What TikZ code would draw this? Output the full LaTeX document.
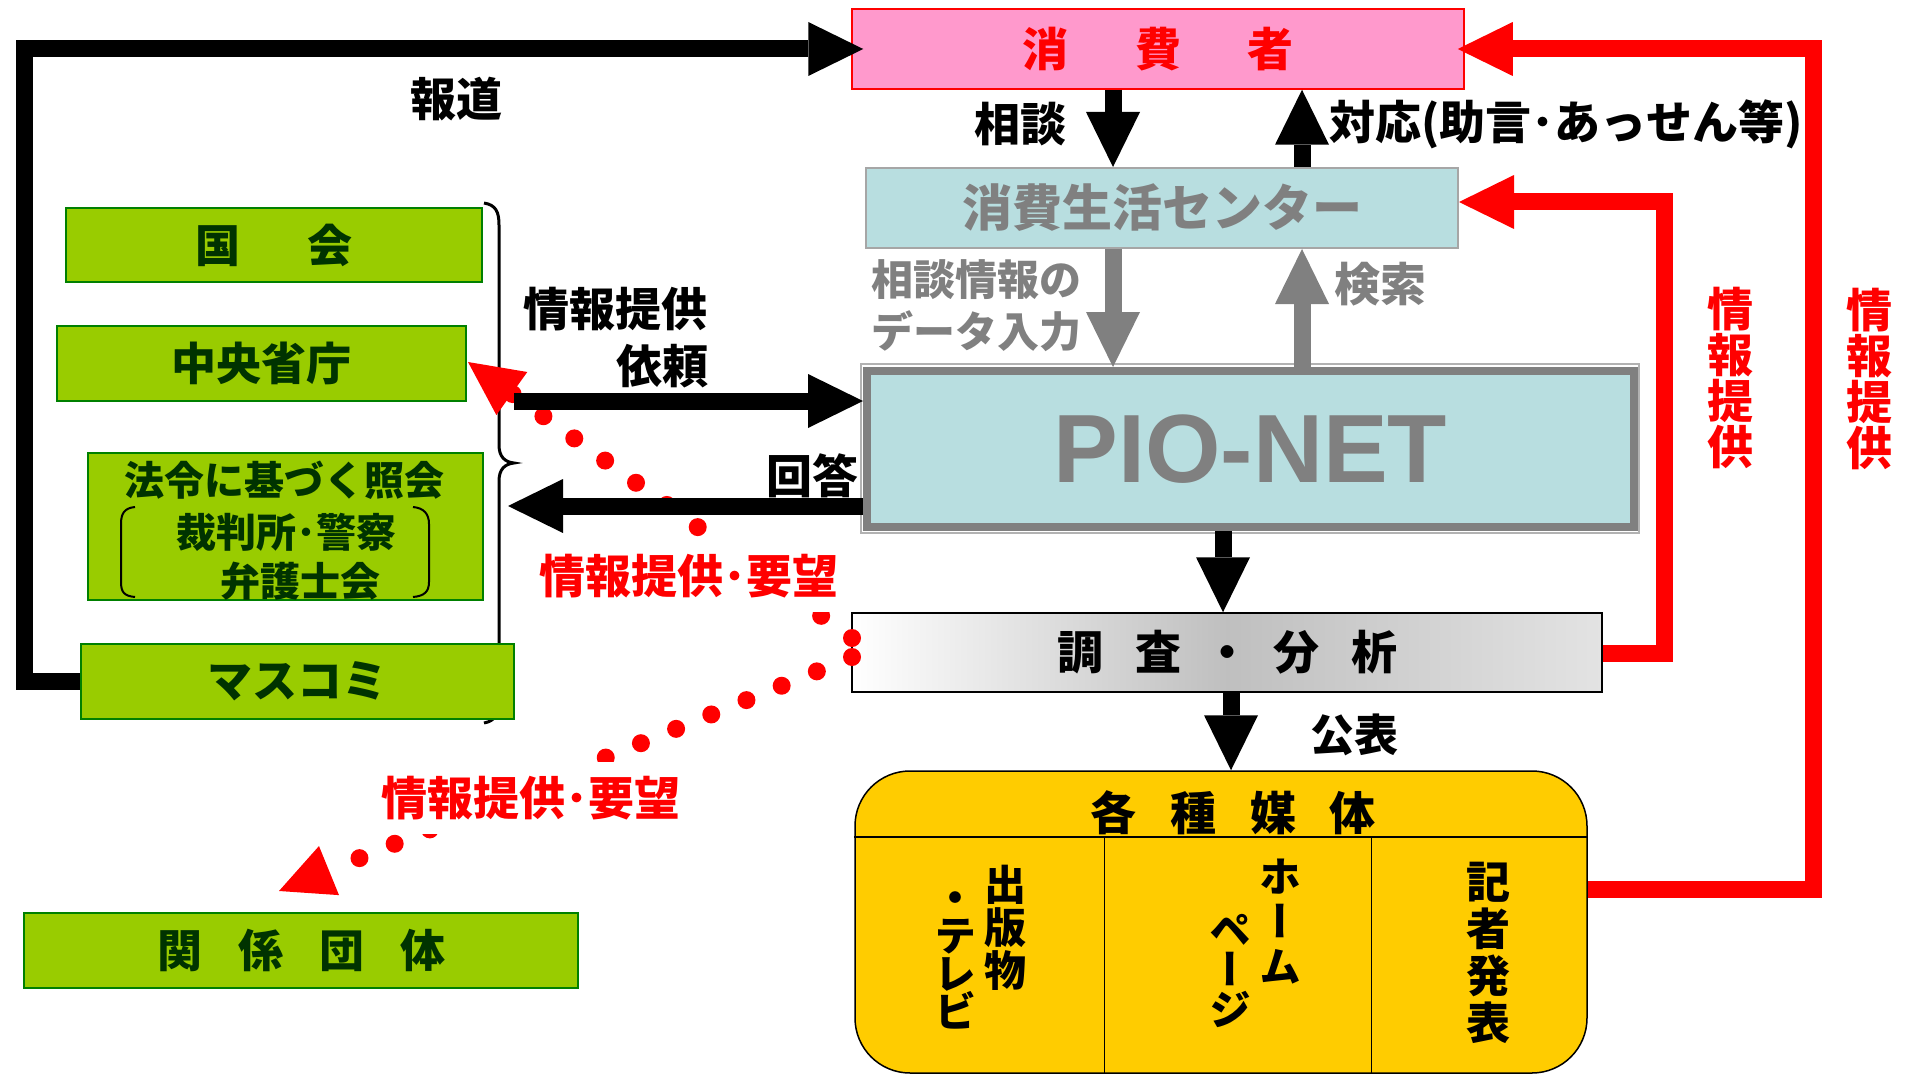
\documentclass[tikz,border=0pt]{standalone}
\usepackage{fontspec}
\setmainfont{Noto Sans CJK JP}
\newfontfamily\vjp{Noto Sans CJK JP}[RawFeature=+vert]
\newfontfamily\arialf{Liberation Sans}
\usetikzlibrary{arrows.meta,calc}
\definecolor{pinkf}{RGB}{255,153,204}
\definecolor{cyanf}{RGB}{184,222,224}
\definecolor{gfill}{RGB}{153,204,0}
\definecolor{gline}{RGB}{0,128,0}
\definecolor{gtext}{RGB}{0,51,0}
\definecolor{yfill}{RGB}{255,204,0}
\definecolor{greyt}{RGB}{128,128,128}
\definecolor{redc}{RGB}{255,0,0}
\newcommand\mystrut{\rule[-0.07em]{0pt}{0.9em}}
\tikzset{
  lab/.style={font=\bfseries\fontsize{46}{50}\selectfont, inner sep=0pt},
  glab/.style={lab, text=greyt},
  rlab/.style={lab, text=redc},
  gtxt/.style={inner sep=0pt, text=gtext, font=\bfseries\fontsize{40}{44}\selectfont},
  gbox/.style={draw=gline, fill=gfill, line width=2pt, text=gtext, inner sep=0pt,
    font=\bfseries\fontsize{45}{50}\selectfont},
  blk/.style={line width=17pt, line join=miter,
    -{Triangle[length=55pt,width=54pt,line width=0pt]}},
  gry/.style={blk, color=greyt},
  redarr/.style={blk, color=redc},
  dotarr/.style={color=redc, line width=18pt, line cap=round, dash pattern=on 0pt off 38pt,
    -{Triangle[length=54pt,width=53pt,line width=0pt]}},
  vt/.style={align=center, inner sep=0pt},
}
\begin{document}
\begin{tikzpicture}[x=1pt,y=-1pt]
\useasboundingbox (0,0) rectangle (1908,1075);

% brace
\draw[line width=3pt] (484,203) .. controls (496,205) and (499,212) .. (499,225) -- (499,445)
  .. controls (499,457) and (505,462) .. (514,463) .. controls (505,464) and (499,469) .. (499,481)
  -- (499,700) .. controls (499,714) and (495,721) .. (484,723);

% main boxes
\node[draw=redc, fill=pinkf, line width=1.5pt, minimum width=612pt, minimum height=80pt,
  inner sep=0pt, text=redc, font=\bfseries\fontsize{46}{50}\selectfont] (consumer) at (1158,49)
  {消\hspace{67pt}費\hspace{66pt}者};
\node[draw=gray!70, fill=cyanf, line width=2pt, minimum width=592pt, minimum height=80pt,
  inner sep=0pt, text=greyt, font=\bfseries\fontsize{50}{54}\selectfont] (center) at (1162,208)
  {消費生活センター};
\node[draw=greyt, fill=cyanf, line width=8pt, minimum width=767pt, minimum height=156pt,
  inner sep=0pt, text=greyt, font=\arialf\bfseries\fontsize{97}{100}\selectfont] (pionet)
  at (1250.5,449) {PIO-NET};
\draw[line width=1.5pt, draw=gray!60] ($(pionet.north west)+(-2,-3)$) rectangle ($(pionet.south east)+(1,2)$);
\node[draw=black, line width=1.5pt, left color=white, right color=gray!22, middle color=gray!50,
  minimum width=750pt, minimum height=79pt, inner sep=0pt,
  font=\bfseries\fontsize{46}{50}\selectfont] (analysis) at (1227,652.5)
  {調\hspace{33pt}査\hspace{23pt}・\hspace{23pt}分\hspace{31pt}析};
\node[draw=black, fill=yfill, line width=1.5pt, rounded corners=55pt, minimum width=732pt,
  minimum height=302pt, inner sep=0pt] (media) at (1221,922) {};
\draw[line width=2pt] ($(media.north west)+(0,67)$) -- ($(media.north east)+(0,67)$);
\draw[line width=1.5pt] ($(media.north west)+(250,67)$) -- ($(media.south west)+(250,0)$);
\draw[line width=1.5pt] ($(media.north west)+(517,67)$) -- ($(media.south west)+(517,0)$);
\node[lab] (mediaT) at (1233,813) {各\hspace{34pt}種\hspace{34pt}媒\hspace{34pt}体};
\node[vt, font=\vjp\bfseries\fontsize{42}{43}\selectfont] (c1a) at (1005,928) {\mystrut 出\\版\\物\mystrut};
\node[vt, font=\vjp\bfseries\fontsize{42}{38}\selectfont] (c1b) at (955,955) {\mystrut ・\\テ\\レ\\ビ\mystrut};
\node[vt, font=\vjp\bfseries\fontsize{42}{45}\selectfont] (c2a) at (1280,922) {\mystrut ホ\\ー\\ム\mystrut};
\node[vt, font=\vjp\bfseries\fontsize{42}{40}\selectfont] (c2b) at (1230,970) {\mystrut ペ\\ー\\ジ\mystrut};
\node[vt, font=\vjp\bfseries\fontsize{44}{47}\selectfont] (c3) at (1488,953) {\mystrut 記\\者\\発\\表\mystrut};

% green boxes
\node[gbox, minimum width=416pt, minimum height=74pt] (kokkai) at (274,245) {国\hspace{67pt}会};
\node[gbox, minimum width=409pt, minimum height=75pt] (chuo) at (261.5,363.5) {中央省庁};
\node[gbox, minimum width=395pt, minimum height=147pt] (legal) at (285.5,526.5) {};
\node[gtxt] (legal1) at (284,480) {法令に基づく照会};
\node[gtxt] (legal2) at (286,532) {裁判所･警察};
\node[gtxt] (legal3) at (300,581) {弁護士会};
\draw[line width=2pt] (135,507) .. controls (124,508) and (121,514) .. (121,524) -- (121,582)
  .. controls (121,592) and (124,596) .. (135,597);
\draw[line width=2pt] (413,507) .. controls (424,508) and (429,514) .. (429,524) -- (429,582)
  .. controls (429,592) and (424,596) .. (413,597);
\node[gbox, minimum width=433pt, minimum height=75pt] (masukomi) at (297.5,681.5) {マスコミ};
\node[gbox, minimum width=554pt, minimum height=75pt] (kankei) at (301,950.5)
  {関\hspace{36pt}係\hspace{36pt}団\hspace{36pt}体};

% labels
\node[lab] (hodo) at (456,99) {報道};
\node[lab] (sodan) at (1020,124) {相談};
\node[lab, anchor=west] (taio) at (1329,124) {対応(助言･あっせん等)};
\node[glab, font=\bfseries\fontsize{42}{46}\selectfont, anchor=west] (input1) at (871,280) {相談情報の};
\node[glab, font=\bfseries\fontsize{42}{46}\selectfont, anchor=west] (input2) at (871,331) {データ入力};
\node[glab] (kensaku) at (1380,284) {検索};
\node[lab, anchor=east] (teikyo) at (708,309) {情報提供};
\node[lab, anchor=east] (irai) at (709,366) {依頼};
\node[lab] (kaito) at (812,476) {回答};
\node[lab, font=\bfseries\fontsize{44}{48}\selectfont] (kohyo) at (1354,735) {公表};
\node[vt, text=redc, font=\bfseries\fontsize{46}{46}\selectfont] (rv1) at (1730,378) {\mystrut 情\\報\\提\\供\mystrut};
\node[vt, text=redc, font=\bfseries\fontsize{46}{46}\selectfont] (rv2) at (1869,379) {\mystrut 情\\報\\提\\供\mystrut};

% coordinates
\coordinate (xa) at (1113,0);
\coordinate (xb) at (1302,0);
\coordinate (xc) at (1223,0);
\coordinate (xd) at (1231,0);
\coordinate (req) at (514,401);
\coordinate (ans) at (508,506);
\coordinate (r1) at (1813,889);
\coordinate (r2) at (1664,653);
\coordinate (r3) at (1664,202);
\coordinate (s1) at (852,638);
\coordinate (t1) at (468,362);
\coordinate (s2) at (852,657);
\coordinate (t2) at (279,891);

% dotted red arrows and labels
\draw[dotarr] (s1) -- (t1);
\draw[dotarr] (s2) -- (t2);
\node[rlab, fill=white, inner xsep=8pt, inner ysep=14pt] (want1) at (689,576) {情報提供･要望};
\node[rlab, fill=white, inner xsep=8pt, inner ysep=14pt] (want2) at (531,798) {情報提供･要望};

% black arrows
\draw[blk] (masukomi.west) -- ++(-56,0) |- ([xshift=12pt]consumer.west);
\draw[blk] (xa |- consumer.south) -- (xa |- center.north);
\draw[blk] (xb |- center.north) -- (xb |- consumer.south);
\draw[gry] (xa |- center.south) -- (xa |- pionet.north);
\draw[gry] (xb |- pionet.north) -- (xb |- center.south);
\draw[blk] (req) -- (req -| pionet.west);
\draw[blk] (ans -| pionet.west) -- (ans);
\draw[blk] (xc |- pionet.south) -- (xc |- analysis.north);
\draw[blk] (xd |- analysis.south) -- (xd |- media.north);

% red arrows
\draw[redarr] (r1 -| media.east) -- (r1) |- ([xshift=-7pt]consumer.east);
\draw[redarr] (r2 -| analysis.east) -- (r2) -- (r3) -- (r3 -| center.east);
\end{tikzpicture}
\end{document}
